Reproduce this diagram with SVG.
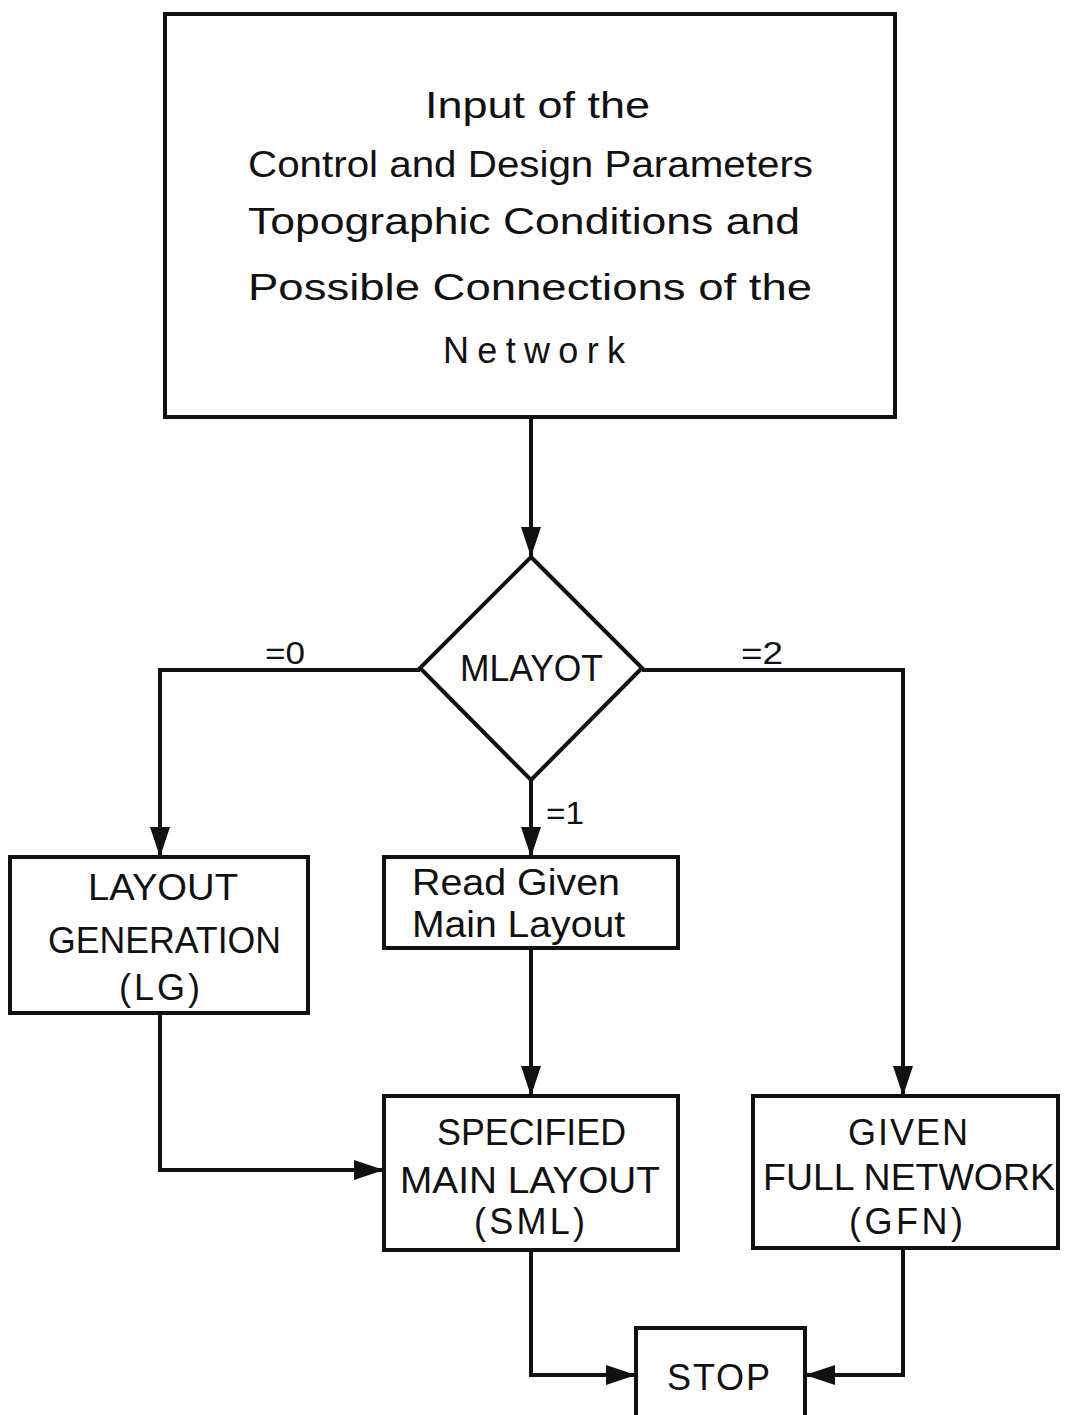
<svg xmlns="http://www.w3.org/2000/svg" width="1066" height="1415" viewBox="0 0 1066 1415">
<style>
.box{fill:#fff;stroke:#111;stroke-width:4}
.ln{fill:none;stroke:#111;stroke-width:4}
.t{font-family:"Liberation Sans",Arial,sans-serif;font-size:36px;fill:#111}
.l{font-family:"Liberation Sans",Arial,sans-serif;font-size:31px;fill:#111}
</style>
<defs>
<marker id="ah" markerUnits="userSpaceOnUse" markerWidth="30" markerHeight="20" refX="30" refY="10" orient="auto" viewBox="0 0 30 20">
<path d="M0,0 L30,10 L0,20 z" fill="#111"/>
</marker>
</defs>
<rect width="1066" height="1415" fill="#fff"/>
<g id="connectors">
<path class="ln" d="M531,417 V557" marker-end="url(#ah)"/>
<path class="ln" d="M420,670 H160 V857" marker-end="url(#ah)"/>
<path class="ln" d="M642,670 H903 V1096" marker-end="url(#ah)"/>
<path class="ln" d="M531,780 V857" marker-end="url(#ah)"/>
<path class="ln" d="M160,1013 V1170 H384" marker-end="url(#ah)"/>
<path class="ln" d="M531,948 V1096" marker-end="url(#ah)"/>
<path class="ln" d="M531,1250 V1375 H636" marker-end="url(#ah)"/>
<path class="ln" d="M903,1248 V1375 H805" marker-end="url(#ah)"/>
<text class="l" x="265" y="664" textLength="40" lengthAdjust="spacingAndGlyphs">=0</text>
<text class="l" x="741" y="664" textLength="42" lengthAdjust="spacingAndGlyphs">=2</text>
<text class="l" x="546" y="824" textLength="38" lengthAdjust="spacingAndGlyphs">=1</text>
</g>
<g id="input">
<rect class="box" x="165" y="14" width="730" height="403"/>
<text class="t" x="425" y="118" textLength="225" lengthAdjust="spacingAndGlyphs">Input of the</text>
<text class="t" x="248" y="177" textLength="565" lengthAdjust="spacingAndGlyphs">Control and Design Parameters</text>
<text class="t" x="248" y="234" textLength="552" lengthAdjust="spacingAndGlyphs">Topographic Conditions  and</text>
<text class="t" x="248" y="300" textLength="564" lengthAdjust="spacingAndGlyphs">Possible  Connections of the</text>
<text class="t" x="443" y="363" textLength="182" lengthAdjust="spacing">Network</text>
</g>
<g id="mlayot">
<polygon class="box" points="531,557 642,668 531,780 420,668"/>
<text class="t" x="460" y="681" textLength="143" lengthAdjust="spacingAndGlyphs">MLAYOT</text>
</g>
<g id="lg">
<rect class="box" x="10" y="857" width="298" height="156"/>
<text class="t" x="88" y="900" textLength="150" lengthAdjust="spacingAndGlyphs">LAYOUT</text>
<text class="t" x="48" y="953" textLength="233" lengthAdjust="spacingAndGlyphs">GENERATION</text>
<text class="t" x="119" y="1000" textLength="81" lengthAdjust="spacing">(LG)</text>
</g>
<g id="read">
<rect class="box" x="384" y="857" width="294" height="91"/>
<text class="t" x="412" y="895" textLength="208" lengthAdjust="spacingAndGlyphs">Read Given</text>
<text class="t" x="412" y="937" textLength="213" lengthAdjust="spacingAndGlyphs">Main Layout</text>
</g>
<g id="sml">
<rect class="box" x="384" y="1096" width="294" height="154"/>
<text class="t" x="437" y="1145" textLength="189" lengthAdjust="spacingAndGlyphs">SPECIFIED</text>
<text class="t" x="400" y="1193" textLength="260" lengthAdjust="spacingAndGlyphs">MAIN LAYOUT</text>
<text class="t" x="474" y="1234" textLength="111" lengthAdjust="spacing">(SML)</text>
</g>
<g id="gfn">
<rect class="box" x="753" y="1096" width="305" height="152"/>
<text class="t" x="848" y="1145" textLength="120" lengthAdjust="spacing">GIVEN</text>
<text class="t" x="763" y="1190" textLength="292" lengthAdjust="spacingAndGlyphs">FULL NETWORK</text>
<text class="t" x="849" y="1234" textLength="114" lengthAdjust="spacing">(GFN)</text>
</g>
<g id="stop">
<rect class="box" x="636" y="1328" width="169" height="100"/>
<text class="t" x="667" y="1390" textLength="103" lengthAdjust="spacing">STOP</text>
</g>
</svg>
